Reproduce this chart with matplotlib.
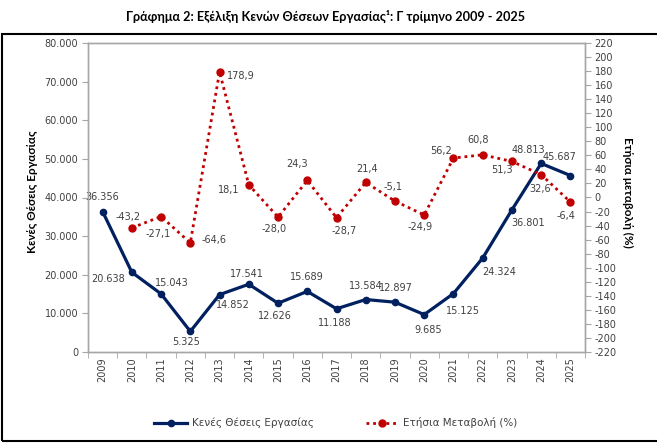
import matplotlib
matplotlib.use("Agg")
import matplotlib.pyplot as plt
from matplotlib.patches import Rectangle
from matplotlib.ticker import FuncFormatter, MultipleLocator

years = [str(y) for y in range(2009, 2026)]
vacancies = [36356, 20638, 15043, 5325, 14852, 17541, 12626, 15689, 11188,
             13584, 12897, 9685, 15125, 24324, 36801, 48813, 45687]
change_years = years[1:]
annual_change = [-43.2, -27.1, -64.6, 178.9, 18.1, -28.0, 24.3, -28.7, 21.4,
                 -5.1, -24.9, 56.2, 60.8, 51.3, 32.6, -6.4]

title = "Γράφημα 2: Εξέλιξη Κενών Θέσεων Εργασίας¹: Γ τρίμηνο 2009 - 2025"
left_label = "Κενές Θέσεις Εργασίας"
right_label = "Ετήσια μεταβολή (%)"
legend_labels = ["Κενές Θέσεις Εργασίας", "Ετήσια Μεταβολή (%)"]

BLUE = "#002060"
RED = "#C00000"
GRID = "#A6A6A6"
TXT = "#404040"
PX = 0.72  # points per pixel at dpi=100

# label offsets in pixels (dx, dy up)
blue_off = [(0, 15), (-24, -7), (11, 11), (-4, -11), (13, -10), (-2, 10), (-3, -13),
            (0, 14), (-2, -14), (0, 14), (1, 14), (4, -15), (10, -17), (17, -14),
            (16, -13), (-13, 13), (-11, 19)]
red_off = [(-4, 11), (-3, -17), (24, 3), (21, -4), (-20, -5), (-4, -12), (-10, 16),
           (8, -13), (1, 13), (-2, 14), (-4, -12), (-12, 7), (-5, 15), (-10, -9),
           (-1, -14), (-4, -14)]

plt.rcParams['font.family'] = ['DejaVu Sans']

fig = plt.figure(figsize=(6.57, 4.43), dpi=100)
W, H = 657, 443
ax = fig.add_axes([88 / W, 1 - 352 / H, (585 - 88) / W, (352 - 43) / H])
ax2 = ax.twinx()

x = list(range(len(years)))
xc = x[1:]

ax.plot(x, vacancies, color=BLUE, lw=2.3, marker='o', ms=4.5, zorder=3)
ax2.plot(xc, annual_change, color=RED, lw=2, ls=(0, (1, 1.4)), marker='o', ms=5, zorder=3)

ax.set_xlim(-0.5, len(years) - 0.5)
ax.set_ylim(0, 80000)
ax.yaxis.set_major_locator(MultipleLocator(10000))
ax.yaxis.set_major_formatter(FuncFormatter(lambda v, p: f"{int(v):,}".replace(",", ".")))
ax2.set_ylim(-220, 220)
ax2.yaxis.set_major_locator(MultipleLocator(20))
ax2.yaxis.set_major_formatter(FuncFormatter(lambda v, p: f"{int(round(v))}"))

ax.set_xticks(x)
ax.set_xticklabels(years, rotation=90, fontsize=7, color=TXT)
ax.set_xticks([i - 0.5 for i in range(len(years) + 1)], minor=True)
ax.tick_params(axis='x', which='major', length=0, pad=4)
ax.tick_params(axis='x', which='minor', length=4, color=GRID, direction='out')
ax.tick_params(axis='y', length=4, color=GRID, labelsize=7, labelcolor=TXT, pad=3)
ax2.tick_params(axis='y', length=4, color=GRID, labelsize=7, labelcolor=TXT, pad=3)

for a in (ax, ax2):
    for s in a.spines.values():
        s.set_color(GRID)
        s.set_linewidth(1)

for i, (v, (dx, dy)) in enumerate(zip(vacancies, blue_off)):
    ax.annotate(f"{v:,}".replace(",", "."), (x[i], v), xytext=(dx * PX, dy * PX),
                textcoords='offset points', ha='center', va='center', fontsize=7, color=TXT, zorder=5)
for i, (v, (dx, dy)) in enumerate(zip(annual_change, red_off)):
    ax2.annotate(f"{v:.1f}".replace(".", ","), (xc[i], v), xytext=(dx * PX, dy * PX),
                 textcoords='offset points', ha='center', va='center', fontsize=7, color=TXT, zorder=5)

fig.text(33 / W, 1 - 192 / H, left_label, rotation=90, ha='center', va='center',
         fontsize=8.5, fontweight='bold', color='black', family=['Lato', 'DejaVu Sans'])
fig.text(628 / W, 1 - 192 / H, right_label, rotation=-90, ha='center', va='center',
         fontsize=8.5, fontweight='bold', color='black', family=['Lato', 'DejaVu Sans'])
fig.text(326 / W, 1 - 16 / H, title, ha='center', va='center', fontsize=9.1,
         fontweight='bold', family=['Lato', 'DejaVu Sans'])

h1, = ax.plot([], [], color=BLUE, lw=2.3, marker='o', ms=4.5)
h2, = ax.plot([], [], color=RED, lw=2, ls=(0, (1, 1.4)), marker='o', ms=5)
fig.legend([h1, h2], legend_labels, loc='center', bbox_to_anchor=(336 / W, 1 - 423 / H),
           ncol=2, frameon=False, fontsize=7.5, handlelength=3.1, handletextpad=0.5,
           columnspacing=5, labelcolor=TXT)

fig.patches.append(Rectangle((1.5 / W, 1 - 441 / H), (W + 10) / W, (441 - 34) / H,
                             transform=fig.transFigure, fill=False, ec='black', lw=1.5))

fig.savefig("out.png", dpi=100)
